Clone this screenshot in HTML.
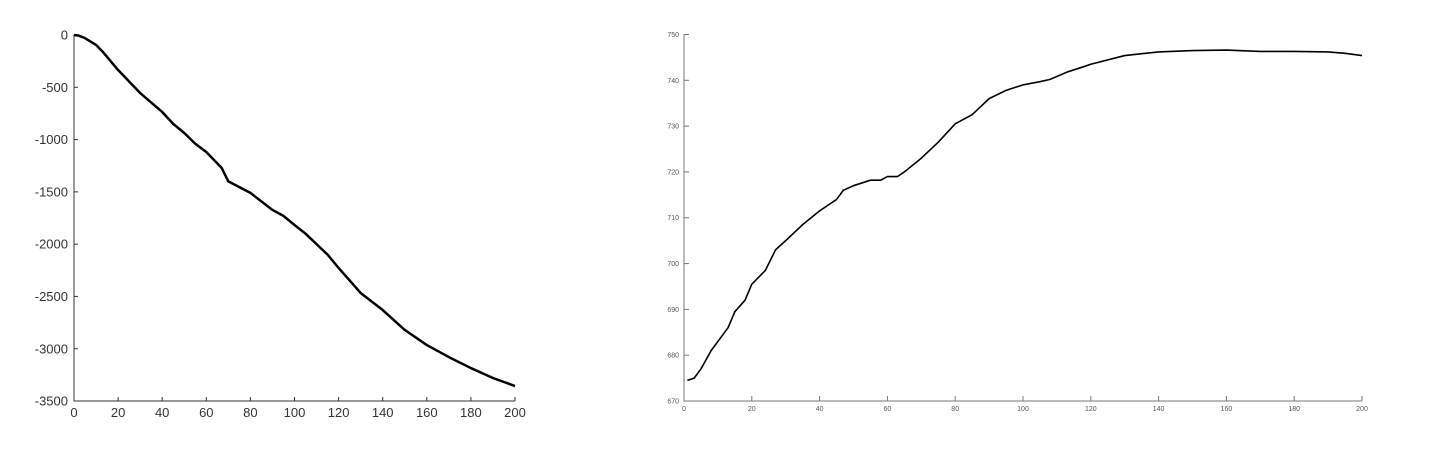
<!DOCTYPE html>
<html><head><meta charset="utf-8"><style>
html,body{margin:0;padding:0;background:#fff;}
svg{display:block;font-family:"Liberation Sans",sans-serif;}
</style></head><body>
<svg id="svg" width="1446" height="450"></svg>
<script>
const leftX=[0,2,5,10,13,20,30,40,45,50,55,60,67,70,80,90,95,100,105,110,115,120,130,140,150,160,170,180,190,200];
const leftY=[0,-5,-30,-95,-160,-335,-555,-736,-850,-937,-1040,-1119,-1272,-1400,-1510,-1673,-1730,-1817,-1900,-2000,-2100,-2228,-2467,-2630,-2820,-2965,-3080,-3185,-3280,-3357];
const leftYTicks=[0,-500,-1000,-1500,-2000,-2500,-3000,-3500];
const leftXTicks=[0,20,40,60,80,100,120,140,160,180,200];
const rightX=[1,3,5,8,10,13,15,18,20,24,27,30,35,40,45,47,50,55,58,60,63,65,70,75,80,85,90,95,100,105,108,113,118,120,130,140,150,160,170,180,190,195,200];
const rightY=[674.5,675,677,681,683,686,689.5,692,695.5,698.5,703,705,708.5,711.5,714,716,717,718.2,718.2,719,719,720,723,726.5,730.5,732.5,736,737.8,739,739.7,740.2,741.8,743,743.5,745.4,746.2,746.5,746.6,746.3,746.3,746.2,745.9,745.4];
const rightYTicks=[670,680,690,700,710,720,730,740,750];
const rightXTicks=[0,20,40,60,80,100,120,140,160,180,200];
const NS="http://www.w3.org/2000/svg";
const svg=document.getElementById('svg');
function mk(t,a,p){const e=document.createElementNS(NS,t);for(const k in a)e.setAttribute(k,a[k]);(p||svg).appendChild(e);return e;}
function chart(o){
 const g=mk('g',{});
 
 
 const sx=v=>o.x0+(v-o.xmin)/(o.xmax-o.xmin)*(o.x1-o.x0);
 const sy=v=>o.y1-(v-o.ymin)/(o.ymax-o.ymin)*(o.y1-o.y0);
 const ax=mk('path',{d:`M${o.x0},${o.y0}V${o.y1}H${o.x1}`,fill:'none',stroke:o.axc,'stroke-width':1},g);
 
 
 o.yt.forEach(v=>{const y=sy(v);
  mk('line',{x1:o.x0,x2:o.x0+o.tl,y1:y,y2:y,stroke:o.axc},g);
  const t=mk('text',{x:o.x0-o.lg,y:y+o.fs*0.35,'text-anchor':'end','font-size':o.fs,fill:o.tc},g);t.textContent=v;
  
  });
 o.xt.forEach(v=>{const x=sx(v);
  mk('line',{x1:x,x2:x,y1:o.y1,y2:o.y1-o.tl,stroke:o.axc},g);
  const t=mk('text',{x:x,y:o.y1+o.fs+3,'text-anchor':'middle','font-size':o.fs,fill:o.tc},g);t.textContent=v;
  
  });
 const l=mk('polyline',{points:o.xs.map((v,i)=>sx(v)+','+sy(o.ys[i])).join(' '),fill:'none',stroke:'#000','stroke-width':o.lw,'stroke-linejoin':'round'},g);
 
 
}
chart({name:'left-chart',x0:74,x1:515,y0:35,y1:401,xmin:0,xmax:200,ymin:-3500,ymax:0,xt:leftXTicks,yt:leftYTicks,xs:leftX,ys:leftY,fs:13,lg:6,tl:4,axc:'#333',tc:'#333',lw:2.5});
chart({name:'right-chart',x0:684,x1:1362,y0:34.5,y1:401,xmin:0,xmax:200,ymin:670,ymax:750,xt:rightXTicks,yt:rightYTicks,xs:rightX,ys:rightY,fs:7,lg:5,tl:5,axc:'#777',tc:'#555',lw:1.6});
</script>
</body></html>
